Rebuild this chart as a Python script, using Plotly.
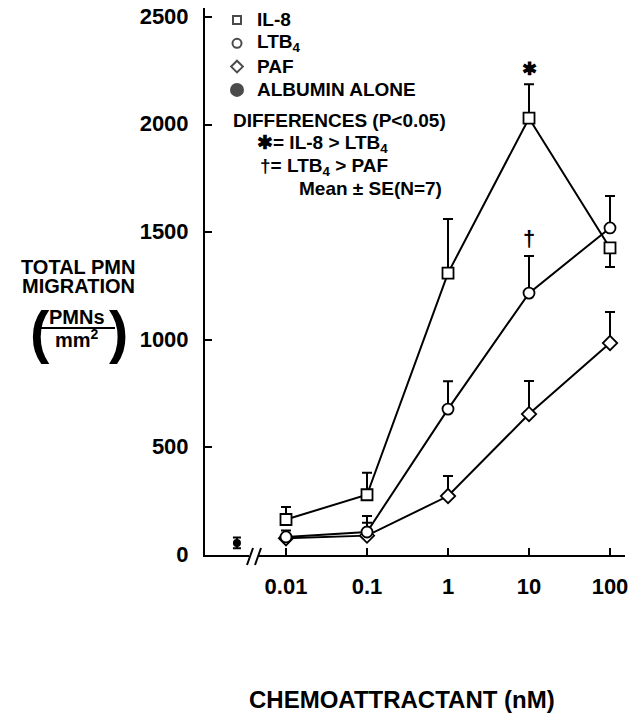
import plotly.graph_objects as go

conc = [0.01, 0.1, 1, 10, 100]
il8 = [165, 280, 1310, 2030, 1427]
il8_up = [58, 102, 251, 158, 0]
il8_dn = [0, 0, 0, 0, 89]
ltb4 = [84, 107, 678, 1217, 1520]
ltb4_up = [30, 74, 130, 172, 148]
paf = [78, 90, 274, 655, 985]
paf_up = [20, 60, 93, 154, 144]
albumin_x = [0.00248]
albumin = [56]
albumin_se = [25]
tick_vals = [0.01, 0.1, 1, 10, 100]
tick_text = ["0.01", "0.1", "1", "10", "100"]
y_ticks = [0, 500, 1000, 1500, 2000, 2500]
legend_names = ["IL-8", "LTB<sub>4</sub>", "PAF", "ALBUMIN ALONE"]
legend_symbols = ["square", "circle", "diamond", "circle"]
legend_fills = ["white", "white", "white", "black"]
legend_sizes = [8, 9, 9, 12]

FONT = "Liberation Sans"
OFF = 8                      # page body margin
PAGE_W, PAGE_H = 644, 715
W, H = PAGE_W - OFF, PAGE_H - OFF
# plot area in page pixels
PL, PR, PT, PB = 205, 625, 8, 555

def px(x):
    return (x - PL) / (PR - PL)

def py(y):
    return (PB - y) / (PB - PT)

fig = go.Figure()

def series(x, y, up, dn, symbol):
    fig.add_trace(go.Scatter(
        x=x, y=y, mode="lines+markers", showlegend=False,
        line=dict(color="black", width=2),
        marker=dict(symbol=symbol, size=11, color="white",
                    line=dict(color="black", width=1.8)),
        error_y=dict(type="data", array=up, arrayminus=dn, symmetric=False,
                     color="black", thickness=2, width=5),
    ))

series(conc, paf, paf_up, [0]*5, "diamond")
series(conc, ltb4, ltb4_up, [0]*5, "circle")
series(conc, il8, il8_up, il8_dn, "square")

fig.add_trace(go.Scatter(
    x=albumin_x, y=albumin, mode="markers", showlegend=False,
    marker=dict(symbol="circle", size=8, color="black"),
    error_y=dict(type="data", array=albumin_se, color="black", thickness=2, width=4),
))

# legend keys on an overlay axis measured in page pixels
LEG_X, LEG_Y0, LEG_DY, LEG_TX = 237, 20, 23.3, 255
leg_y = [LEG_Y0 + i * LEG_DY for i in range(len(legend_names))]
fig.add_trace(go.Scatter(
    x=[LEG_X] * len(legend_names), y=leg_y, xaxis="x2", yaxis="y2",
    mode="markers", showlegend=False, cliponaxis=False, hoverinfo="skip",
    marker=dict(symbol=legend_symbols, size=legend_sizes, color=legend_fills,
                line=dict(color="black", width=2)),
))

annotations = []
def note(text, x, y, size=19, xanchor="left", xref="paper", yref="paper"):
    annotations.append(dict(text=text, x=x, y=y, xref=xref, yref=yref,
                            xanchor=xanchor, yanchor="middle", showarrow=False,
                            font=dict(family=FONT, size=size, color="black")))

for name, yy in zip(legend_names, leg_y):
    note(f"<b>{name}</b>", px(LEG_TX), py(yy))

note("<b>DIFFERENCES (P<0.05)</b>", px(231), py(120))
note("<b>✱= IL-8 > LTB<sub>4</sub></b>", px(255), py(144))
note("<b>†= LTB<sub>4</sub> > PAF</b>", px(258), py(167))
note("<b>Mean ± SE(N=7)</b>", px(297), py(189))

note("<b>✱</b>", 1, 2258, size=18, xanchor="center", xref="x", yref="y")
note("<b>†</b>", 1, 1470, size=22, xanchor="center", xref="x", yref="y")

note("<b>TOTAL PMN</b>", px(78), py(267), size=20, xanchor="center")
note("<b>MIGRATION</b>", px(78), py(286), size=20, xanchor="center")
note("<b>PMNs</b>", px(77), py(317), size=20, xanchor="center")
note("<b>mm<sup>2</sup></b>", px(77), py(338), size=20, xanchor="center")
note("<b>(</b>", px(40), py(332), size=58, xanchor="center")
note("<b>)</b>", px(118), py(332), size=58, xanchor="center")
note("<b>CHEMOATTRACTANT (nM)</b>", px(402), py(699), size=24, xanchor="center")

shapes = [
    dict(type="line", xref="paper", yref="paper", x0=px(38), x1=px(115),
         y0=py(328), y1=py(328), line=dict(color="black", width=2)),
    # axis break
    dict(type="rect", xref="paper", yref="paper", x0=px(249), x1=px(259),
         y0=py(552), y1=py(558), fillcolor="white", line=dict(width=0), layer="above"),
    dict(type="line", xref="paper", yref="paper", x0=px(247), x1=px(253),
         y0=py(565), y1=py(548), line=dict(color="black", width=2)),
    dict(type="line", xref="paper", yref="paper", x0=px(255), x1=px(261),
         y0=py(565), y1=py(548), line=dict(color="black", width=2)),
]

fig.update_layout(
    width=W, height=H,
    margin=dict(l=PL - OFF, r=PAGE_W - PR, t=PT - OFF, b=PAGE_H - PB, autoexpand=False),
    paper_bgcolor="white", plot_bgcolor="white",
    font=dict(family=FONT, color="black"),
    showlegend=False,
    annotations=annotations, shapes=shapes,
    xaxis=dict(type="log", range=[-3.0, 2.185], showgrid=False, zeroline=False,
               showline=True, linecolor="black", linewidth=2,
               ticks="inside", ticklen=7, tickwidth=2, tickcolor="black",
               tickvals=tick_vals, ticktext=[f"<b>{t}</b>" for t in tick_text],
               tickfont=dict(family=FONT, size=22, color="black"),
               ticklabelstandoff=11, ticklabeloverflow="allow"),
    yaxis=dict(range=[0, 2542], showgrid=False, zeroline=False,
               showline=True, linecolor="black", linewidth=2,
               ticks="inside", ticklen=7, tickwidth=2, tickcolor="black",
               tickvals=y_ticks, ticktext=[f"<b>{v}</b>" for v in y_ticks],
               tickfont=dict(family=FONT, size=22, color="black"),
               ticklabelstandoff=10, ticklabelshift=-1, ticklabeloverflow="allow"),
    xaxis2=dict(overlaying="x", anchor="y2", range=[PL, PR], visible=False),
    yaxis2=dict(overlaying="y", anchor="x2", range=[PB, PT], visible=False),
)

fig.write_html("out.html")
